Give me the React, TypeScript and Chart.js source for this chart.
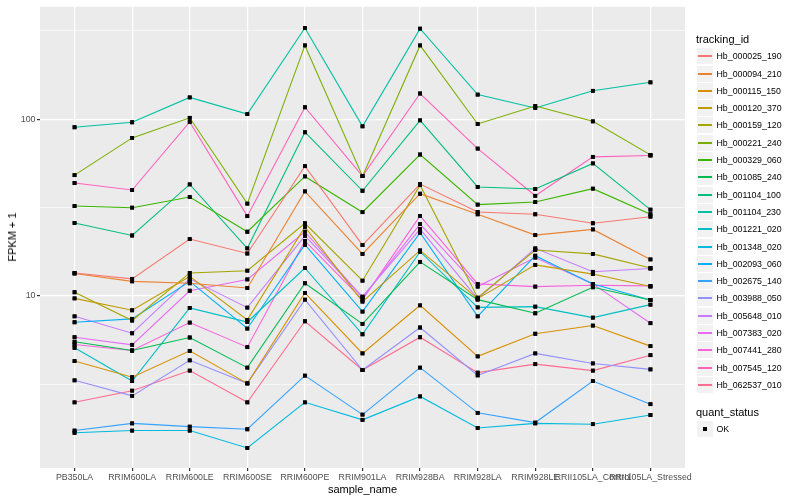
import React, { useEffect, useRef } from "react";
import { Chart, registerables } from "chart.js";

Chart.register(...registerables);

const FONT = '"Liberation Sans", Arial, Helvetica, sans-serif';

const categories = [
  "PB350LA",
  "RRIM600LA",
  "RRIM600LE",
  "RRIM600SE",
  "RRIM600PE",
  "RRIM901LA",
  "RRIM928BA",
  "RRIM928LA",
  "RRIM928LE",
  "RRII105LA_Control",
  "RRII105LA_Stressed",
];

const trackingIds = [
  "Hb_000025_190",
  "Hb_000094_210",
  "Hb_000115_150",
  "Hb_000120_370",
  "Hb_000159_120",
  "Hb_000221_240",
  "Hb_000329_060",
  "Hb_001085_240",
  "Hb_001104_100",
  "Hb_001104_230",
  "Hb_001221_020",
  "Hb_001348_020",
  "Hb_002093_060",
  "Hb_002675_140",
  "Hb_003988_050",
  "Hb_005648_010",
  "Hb_007383_020",
  "Hb_007441_280",
  "Hb_007545_120",
  "Hb_062537_010",
];

const seriesColors = [
  "#F8766D", "#EA8331", "#D89000", "#C09B00", "#A3A500",
  "#7CAE00", "#39B600", "#00BB4E", "#00BF7D", "#00C1A3",
  "#00BFC4", "#00BAE0", "#00B0F6", "#35A2FF", "#9590FF",
  "#C77CFF", "#E76BF3", "#FA62DB", "#FF62BC", "#FF6C91",
];

// FPKM + 1 values, one array per tracking_id, in category order
const hb000025_190 = [13.5, 12.5, 21.0, 17.4, 54.3, 19.4, 43.0, 29.9, 29.0, 25.8, 28.1];
const hb000094_210 = [13.4, 12.1, 11.8, 11.1, 39.1, 17.3, 37.9, 29.0, 22.1, 23.8, 16.1];
const hb000115_150 = [4.28, 3.47, 4.89, 3.2, 10.4, 4.73, 8.85, 4.55, 6.11, 6.8, 5.2];
const hb000120_370 = [9.69, 8.3, 12.9, 7.32, 24.6, 9.29, 18.1, 9.66, 15.0, 13.3, 11.3];
const hb000159_120 = [10.5, 7.26, 13.5, 13.9, 25.8, 12.2, 42.4, 9.78, 18.2, 17.3, 14.4];
const hb000221_240 = [48.3, 78.5, 102, 33.3, 262, 47.7, 262, 94.1, 119, 97.4, 62.9];
const hb000329_060 = [32.3, 31.6, 36.3, 23.1, 47.5, 29.8, 63.2, 32.9, 34.0, 40.5, 29.0];
const hb001085_240 = [5.5, 4.91, 5.82, 3.93, 11.8, 6.95, 15.6, 9.53, 7.98, 11.2, 9.49];
const hb001104_100 = [25.9, 22.0, 42.8, 18.6, 84.5, 39.4, 98.7, 41.4, 40.3, 56.3, 30.8];
const hb001104_230 = [90.2, 96.2, 133, 107, 329, 91.3, 326, 138, 116, 145, 162];
const hb001221_020 = [5.09, 3.3, 8.56, 7.12, 14.4, 6.07, 17.8, 8.62, 8.7, 7.54, 8.93];
const hb001348_020 = [1.68, 1.73, 1.73, 1.38, 2.5, 1.99, 2.7, 1.79, 1.9, 1.88, 2.12];
const hb002093_060 = [7.1, 7.42, 12.1, 6.54, 19.5, 8.16, 22.8, 7.67, 16.9, 11.7, 9.49];
const hb002675_140 = [1.73, 1.9, 1.82, 1.76, 3.54, 2.13, 3.93, 2.18, 1.92, 3.3, 2.44];
const hb003988_050 = [3.33, 2.72, 4.32, 3.2, 9.53, 3.81, 6.63, 3.55, 4.73, 4.15, 3.84];
const hb005648_010 = [7.67, 6.15, 12.5, 8.59, 21.9, 9.91, 23.9, 9.66, 18.6, 13.7, 14.3];
const hb007383_020 = [5.84, 5.29, 10.7, 12.4, 23.1, 9.78, 25.5, 11.3, 16.5, 11.7, 7.01];
const hb007441_280 = [5.31, 4.91, 7.07, 5.13, 20.5, 9.53, 28.4, 11.7, 11.3, 11.5, 11.4];
const hb007545_120 = [43.6, 39.8, 96.6, 28.3, 117, 47.7, 140, 68.3, 36.9, 61.3, 62.4];
const hb062537_010 = [2.5, 2.91, 3.78, 2.5, 7.19, 3.81, 5.84, 3.68, 4.11, 3.78, 4.62];

const seriesValues = [
  hb000025_190, hb000094_210, hb000115_150, hb000120_370, hb000159_120,
  hb000221_240, hb000329_060, hb001085_240, hb001104_100, hb001104_230,
  hb001221_020, hb001348_020, hb002093_060, hb002675_140, hb003988_050,
  hb005648_010, hb007383_020, hb007441_280, hb007545_120, hb062537_010,
];

const yMajorTicks = [10, 100];
const yMinorTicks = [3.1623, 31.623, 316.23];
const yMin = 1.062;
const yMax = 433.5;

const panelBg = {
  id: "panelBg",
  beforeDraw(chart: any) {
    const { ctx, chartArea } = chart;
    if (!chartArea) return;
    ctx.save();
    ctx.fillStyle = "#EBEBEB";
    ctx.fillRect(chartArea.left, chartArea.top, chartArea.right - chartArea.left, chartArea.bottom - chartArea.top);
    ctx.restore();
  },
};

const pointsOnTop = {
  id: "pointsOnTop",
  afterDatasetsDraw(chart: any) {
    const ctx = chart.ctx;
    chart.data.datasets.forEach((_d: any, i: number) => {
      const meta = chart.getDatasetMeta(i);
      meta.data.forEach((p: any) => p.draw(ctx, chart.chartArea));
    });
  },
};

function App() {
  const canvasRef = useRef<HTMLCanvasElement | null>(null);

  useEffect(() => {
    const canvas = canvasRef.current;
    if (!canvas) return;
    const allY = [...yMinorTicks, ...yMajorTicks].sort((a, b) => a - b);
    const chart = new Chart(canvas, {
      type: "line",
      data: {
        datasets: seriesValues.map((vals, si) => ({
          label: trackingIds[si],
          data: vals.map((v, i) => ({ x: i, y: v })),
          borderColor: seriesColors[si],
          backgroundColor: seriesColors[si],
          borderWidth: 1.1,
          tension: 0,
          fill: false,
          pointStyle: "rect",
          pointRadius: 2.7,
          pointBorderWidth: 0,
          pointBackgroundColor: "#000000",
          pointBorderColor: "#000000",
        })),
      },
      options: {
        animation: false,
        responsive: false,
        devicePixelRatio: 1,
        layout: { padding: { left: 0, top: 5, right: 115, bottom: 0 } },
        plugins: { legend: { display: false }, tooltip: { enabled: false }, title: { display: false } },
        scales: {
          x: {
            type: "linear",
            min: -0.6,
            max: 10.6,
            afterBuildTicks: (s: any) => {
              s.ticks = categories.map((_c, i) => ({ value: i }));
            },
            afterFit: (s: any) => {
              s.height = 32;
            },
            ticks: {
              autoSkip: false,
              maxRotation: 0,
              minRotation: 0,
              padding: 1,
              color: "#4D4D4D",
              font: { family: FONT, size: 8.8 },
              callback: (_v: any, index: number) => categories[index],
            },
            grid: { color: "#FFFFFF", lineWidth: 1.2, tickLength: 3, tickColor: "#333333" },
            border: { display: false },
          },
          y: {
            type: "logarithmic",
            min: yMin,
            max: yMax,
            afterBuildTicks: (s: any) => {
              s.ticks = allY.map((v) => ({ value: v }));
            },
            afterFit: (s: any) => {
              s.width = 40;
            },
            ticks: {
              padding: 1.5,
              color: "#4D4D4D",
              font: { family: FONT, size: 8.8 },
              callback: (v: any) => (yMajorTicks.includes(v) ? String(v) : ""),
            },
            grid: {
              color: "#FFFFFF",
              lineWidth: (c: any) => (c.tick && yMajorTicks.includes(c.tick.value) ? 1.2 : 0.6),
              tickColor: (c: any) => (c.tick && yMajorTicks.includes(c.tick.value) ? "#333333" : "rgba(0,0,0,0)"),
              tickLength: 3,
            },
            border: { display: false },
          },
        },
      } as any,
      plugins: [panelBg, pointsOnTop],
    });
    return () => chart.destroy();
  }, []);

  const rowH = 17.3;
  const firstRowTop = 48.2;

  return (
    <div style={{ position: "absolute", left: 0, top: 0, width: 800, height: 500, background: "#FFFFFF", fontFamily: FONT }}>
      <canvas ref={canvasRef} width={800} height={500} style={{ position: "absolute", left: 0, top: 0 }} />
      <div
        style={{
          position: "absolute",
          left: 12,
          top: 236.5,
          transform: "translate(-50%, -50%) rotate(-90deg)",
          fontSize: 11,
          whiteSpace: "nowrap",
          color: "#000",
        }}
      >
        FPKM + 1
      </div>
      <div
        style={{
          position: "absolute",
          left: 362.5,
          top: 489,
          transform: "translate(-50%, -50%)",
          fontSize: 11,
          whiteSpace: "nowrap",
          color: "#000",
        }}
      >
        sample_name
      </div>
      <div style={{ position: "absolute", left: 696, top: 33, fontSize: 11, lineHeight: "13px", color: "#000", whiteSpace: "nowrap" }}>
        tracking_id
      </div>
      {trackingIds.map((id, i) => (
        <div key={id} style={{ position: "absolute", left: 697, top: Math.round(firstRowTop + i * rowH), height: 17, width: 100 }}>
          <div style={{ position: "absolute", left: 0, top: 0, width: 16, height: 16, background: "#F2F2F2" }}>
            <div style={{ position: "absolute", left: 1, top: 7, width: 14, height: 1.5, background: seriesColors[i] }} />
          </div>
          <div style={{ position: "absolute", left: 19.5, top: 0, fontSize: 8.8, lineHeight: "16px", color: "#000", whiteSpace: "nowrap" }}>
            {id}
          </div>
        </div>
      ))}
      <div style={{ position: "absolute", left: 696, top: 405.8, fontSize: 11, lineHeight: "13px", color: "#000", whiteSpace: "nowrap" }}>
        quant_status
      </div>
      <div style={{ position: "absolute", left: 697, top: 421, height: 17, width: 100 }}>
        <div style={{ position: "absolute", left: 0, top: 0, width: 16, height: 16, background: "#F2F2F2" }}>
          <div style={{ position: "absolute", left: 6, top: 6, width: 4, height: 4, background: "#000" }} />
        </div>
        <div style={{ position: "absolute", left: 19.5, top: 0, fontSize: 8.8, lineHeight: "16px", color: "#000", whiteSpace: "nowrap" }}>
          OK
        </div>
      </div>
    </div>
  );
}

export default App;
